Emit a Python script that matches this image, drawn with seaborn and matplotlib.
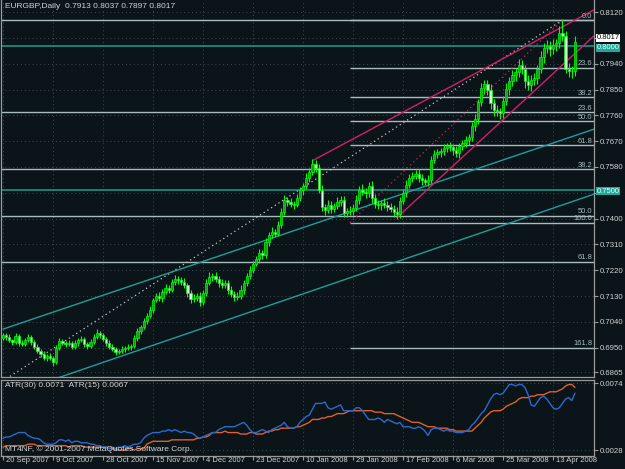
import numpy as np
import pandas as pd
import seaborn as sns
import matplotlib
matplotlib.use("Agg")
import matplotlib.pyplot as plt
import matplotlib.transforms as mtrans

# ---- data (EURGBP daily) ----
opens = [0.6984, 0.6995, 0.6988, 0.6977, 0.6970, 0.6991, 0.6967, 0.6963, 0.6977, 0.6988,
         0.6970, 0.6953, 0.6939, 0.6928, 0.6914, 0.6921, 0.6914, 0.6900, 0.6949, 0.6974,
         0.6967, 0.6963, 0.6967, 0.6953, 0.6967, 0.6977, 0.6981, 0.6963, 0.6956, 0.6970,
         0.6988, 0.7002, 0.6995, 0.6981, 0.6967, 0.6953, 0.6946, 0.6935, 0.6939, 0.6946,
         0.6949, 0.6953, 0.6956, 0.6984, 0.7009, 0.7023, 0.7044, 0.7061, 0.7082, 0.7117,
         0.7131, 0.7122, 0.7145, 0.7159, 0.7152, 0.7180, 0.7190, 0.7187, 0.7180, 0.7169,
         0.7141, 0.7120, 0.7124, 0.7131, 0.7110, 0.7141, 0.7176, 0.7197, 0.7201, 0.7190,
         0.7176, 0.7169, 0.7176, 0.7152, 0.7138, 0.7127, 0.7131, 0.7152, 0.7176, 0.7201,
         0.7222, 0.7243, 0.7258, 0.7281, 0.7272, 0.7320, 0.7344, 0.7355, 0.7348, 0.7379,
         0.7424, 0.7466, 0.7459, 0.7452, 0.7449, 0.7473, 0.7498, 0.7515, 0.7543, 0.7564,
         0.7589, 0.7578, 0.7501, 0.7442, 0.7431, 0.7449, 0.7435, 0.7445, 0.7459, 0.7466,
         0.7421, 0.7426, 0.7428, 0.7438, 0.7466, 0.7501, 0.7494, 0.7489, 0.7515, 0.7473,
         0.7452, 0.7447, 0.7456, 0.7449, 0.7442, 0.7435, 0.7424, 0.7417, 0.7463, 0.7491,
         0.7518, 0.7543, 0.7550, 0.7557, 0.7543, 0.7533, 0.7529, 0.7536, 0.7606, 0.7624,
         0.7631, 0.7634, 0.7645, 0.7652, 0.7648, 0.7638, 0.7627, 0.7652, 0.7662, 0.7673,
         0.7683, 0.7722, 0.7746, 0.7806, 0.7854, 0.7868, 0.7847, 0.7802, 0.7777, 0.7774,
         0.7767, 0.7809, 0.7851, 0.7879, 0.7900, 0.7910, 0.7935, 0.7921, 0.7879, 0.7865,
         0.7882, 0.7889, 0.7921, 0.7963, 0.7994, 0.8001, 0.7990, 0.8005, 0.8012, 0.8047,
         0.8036, 0.7921, 0.7914, 0.7913]
closes = [0.6995, 0.6988, 0.6977, 0.6970, 0.6991, 0.6967, 0.6963, 0.6977, 0.6988, 0.6970,
          0.6953, 0.6939, 0.6928, 0.6914, 0.6921, 0.6914, 0.6900, 0.6949, 0.6974, 0.6967,
          0.6963, 0.6967, 0.6953, 0.6967, 0.6977, 0.6981, 0.6963, 0.6956, 0.6970, 0.6988,
          0.7002, 0.6995, 0.6981, 0.6967, 0.6953, 0.6946, 0.6935, 0.6939, 0.6946, 0.6949,
          0.6953, 0.6956, 0.6984, 0.7009, 0.7023, 0.7044, 0.7061, 0.7082, 0.7117, 0.7131,
          0.7122, 0.7145, 0.7159, 0.7152, 0.7180, 0.7190, 0.7187, 0.7180, 0.7169, 0.7141,
          0.7120, 0.7124, 0.7131, 0.7110, 0.7141, 0.7176, 0.7197, 0.7201, 0.7190, 0.7176,
          0.7169, 0.7176, 0.7152, 0.7138, 0.7127, 0.7131, 0.7152, 0.7176, 0.7201, 0.7222,
          0.7243, 0.7258, 0.7281, 0.7272, 0.7320, 0.7344, 0.7355, 0.7348, 0.7379, 0.7424,
          0.7466, 0.7459, 0.7452, 0.7449, 0.7473, 0.7498, 0.7515, 0.7543, 0.7564, 0.7589,
          0.7578, 0.7501, 0.7442, 0.7431, 0.7449, 0.7435, 0.7445, 0.7459, 0.7466, 0.7421,
          0.7426, 0.7428, 0.7438, 0.7466, 0.7501, 0.7494, 0.7489, 0.7515, 0.7473, 0.7452,
          0.7447, 0.7456, 0.7449, 0.7442, 0.7435, 0.7424, 0.7417, 0.7463, 0.7491, 0.7518,
          0.7543, 0.7550, 0.7557, 0.7543, 0.7533, 0.7529, 0.7536, 0.7606, 0.7624, 0.7631,
          0.7634, 0.7645, 0.7652, 0.7648, 0.7638, 0.7627, 0.7652, 0.7662, 0.7673, 0.7683,
          0.7722, 0.7746, 0.7806, 0.7854, 0.7868, 0.7847, 0.7802, 0.7777, 0.7774, 0.7767,
          0.7809, 0.7851, 0.7879, 0.7900, 0.7910, 0.7935, 0.7921, 0.7879, 0.7865, 0.7882,
          0.7889, 0.7921, 0.7963, 0.7994, 0.8001, 0.7990, 0.8005, 0.8012, 0.8047, 0.8036,
          0.7921, 0.7914, 0.7913, 0.8017]
# wick lengths above / below the body, in pips
up_wick = [8, 6, 10, 5, 12, 7, 9, 6, 11, 8, 7, 9, 6, 10, 8, 12, 7, 9, 11, 6,
           8, 10, 7, 9, 6, 11, 8, 7, 10, 9, 12, 6, 8, 7, 9, 10, 6, 8, 11, 7,
           9, 8, 12, 10, 7, 11, 9, 13, 8, 10, 12, 9, 14, 8, 11, 15, 10, 9, 13, 8,
           11, 14, 9, 12, 10, 13, 16, 9, 12, 10, 14, 11, 9, 13, 10, 12, 15, 9, 11, 13,
           10, 12, 14, 9, 13, 11, 15, 10, 12, 14, 16, 11, 13, 10, 14, 12, 9, 15, 11, 18,
           14, 12, 16, 10, 15, 13, 11, 17, 12, 14, 10, 15, 13, 16, 12, 18, 11, 14, 16, 12,
           13, 10, 15, 12, 14, 11, 16, 13, 12, 15, 11, 14, 12, 16, 13, 10, 15, 12, 14, 11,
           13, 16, 10, 14, 12, 15, 11, 13, 16, 12, 14, 18, 12, 20, 16, 14, 22, 15, 18, 13,
           17, 21, 14, 19, 16, 22, 18, 15, 20, 17, 19, 16, 21, 18, 22, 17, 20, 15, 23, 45,
           18, 21, 17, 20]
down_wick = [7, 10, 6, 9, 8, 11, 6, 8, 7, 12, 9, 6, 11, 8, 10, 7, 12, 8, 6, 9,
             11, 7, 9, 8, 10, 6, 9, 12, 7, 8, 6, 10, 8, 11, 7, 9, 12, 6, 8, 10,
             8, 11, 7, 9, 12, 8, 10, 7, 11, 9, 10, 13, 8, 12, 9, 11, 14, 10, 12, 15,
             13, 9, 11, 14, 10, 12, 9, 13, 11, 15, 12, 10, 14, 11, 13, 9, 12, 14, 10, 11,
             13, 9, 12, 14, 10, 15, 11, 13, 9, 12, 11, 14, 12, 16, 10, 13, 15, 11, 14, 12,
             16, 12, 14, 17, 11, 15, 13, 12, 16, 14, 17, 12, 15, 11, 14, 13, 16, 12, 18, 15,
             14, 16, 12, 15, 13, 17, 18, 14, 12, 16, 13, 15, 11, 14, 16, 12, 15, 13, 11, 14,
             16, 12, 14, 11, 15, 13, 17, 12, 14, 16, 13, 17, 15, 14, 19, 16, 21, 18, 15, 20,
             16, 14, 19, 17, 21, 15, 18, 22, 16, 20, 18, 21, 15, 19, 17, 22, 16, 20, 18, 16,
             15, 19, 22, 16]
# ATR values in pips
atr30 = [30, 31, 31, 31, 31, 31, 31, 31, 32, 32, 32, 31, 31, 31, 31, 31, 31, 31, 31, 31,
         31, 30, 31, 31, 31, 31, 30, 30, 30, 30, 30, 30, 30, 30, 29, 29, 28, 28, 28, 28,
         29, 29, 28, 29, 29, 29, 32, 33, 34, 34, 34, 34, 34, 34, 35, 35, 35, 35, 35, 35,
         35, 35, 36, 36, 37, 37, 38, 40, 40, 40, 40, 41, 40, 40, 40, 40, 39, 39, 39, 40,
         40, 39, 39, 39, 40, 41, 41, 42, 42, 43, 43, 43, 43, 43, 44, 44, 45, 46, 47, 49,
         49, 49, 50, 50, 51, 51, 52, 53, 53, 53, 54, 55, 55, 55, 55, 55, 55, 55, 55, 54,
         54, 54, 53, 53, 53, 53, 52, 51, 50, 49, 48, 47, 47, 47, 46, 45, 44, 44, 44, 43,
         43, 43, 43, 42, 42, 41, 41, 41, 41, 41, 41, 43, 45, 47, 50, 52, 54, 55, 55, 55,
         56, 58, 59, 60, 61, 63, 64, 64, 64, 65, 65, 66, 66, 66, 67, 68, 68, 68, 69, 70,
         72, 73, 73, 71]
atr15 = [36, 37, 37, 38, 39, 40, 40, 40, 38, 37, 36, 36, 35, 33, 32, 32, 32, 33, 35, 35,
         34, 35, 33, 34, 34, 33, 33, 33, 32, 32, 31, 31, 30, 30, 29, 30, 29, 30, 30, 31,
         30, 31, 32, 32, 33, 36, 38, 39, 40, 40, 40, 41, 41, 42, 41, 42, 41, 40, 41, 40,
         40, 39, 37, 36, 37, 38, 39, 40, 40, 42, 43, 44, 44, 44, 44, 45, 46, 47, 45, 42,
         40, 40, 41, 42, 41, 40, 42, 43, 44, 45, 47, 44, 43, 43, 44, 47, 49, 51, 52, 56,
         60, 60, 60, 61, 57, 56, 57, 58, 59, 55, 55, 55, 55, 57, 57, 55, 52, 49, 49, 49,
         50, 49, 47, 49, 48, 47, 46, 47, 44, 44, 44, 43, 43, 44, 43, 41, 38, 42, 43, 43,
         42, 41, 42, 41, 41, 40, 40, 40, 41, 42, 45, 47, 50, 53, 55, 59, 63, 66, 67, 66,
         67, 70, 73, 73, 72, 73, 73, 71, 66, 59, 58, 61, 64, 65, 63, 60, 57, 56, 57, 60,
         63, 64, 62, 67]

first_day = "2007-09-20"
date_labels = ["20 Sep 2007", "9 Oct 2007", "28 Oct 2007", "15 Nov 2007", "4 Dec 2007",
               "23 Dec 2007", "10 Jan 2008", "29 Jan 2008", "17 Feb 2008", "6 Mar 2008",
               "25 Mar 2008", "13 Apr 2008"]
price_ticks = [0.8120, 0.8030, 0.7940, 0.7850, 0.7760, 0.7670, 0.7580, 0.7490,
               0.7400, 0.7310, 0.7220, 0.7130, 0.7040, 0.6950, 0.6865]
hidden_ticks = [0.8030, 0.7490]   # covered by the price boxes on the chart
atr_ticks = [0.0074, 0.0028]
hlines_teal = [0.8000, 0.7500]
last_price = 0.8017

fib_levels = [0.0, 23.6, 38.2, 50.0, 61.8, 100.0, 161.8]
fib_wide = {"lo": (-15.0, 0.6729), "hi": (179, 0.8092)}
fib_near = {"lo": (111, 0.7386), "hi": (179, 0.8092)}
teal_up = [(0.3, 0.7016), (95.0, 0.7365)]
teal_dn = [(19.2, 0.6851), (95.0, 0.7134)]
red_up = [(99.2, 0.7603), (189.0, 0.8127)]
red_dn = [(126.1, 0.7404), (189.0, 0.8036)]

# ---- style ----
bg = "#0b1519"
grid_c = "#3e4c50"
txt_c = "#d2d2d2"
spine_c = "#9a9a9a"
sns.set_theme(style="dark", rc={"axes.facecolor": bg, "figure.facecolor": bg,
                                "axes.edgecolor": spine_c, "grid.color": grid_c})
plt.rcParams["font.family"] = ["Liberation Sans", "DejaVu Sans"]

n = len(closes)
dates = pd.bdate_range(first_day, periods=n, freq="C", weekmask="Sun Mon Tue Wed Thu Fri")
bars = np.arange(n)
day_str = [f"{d.day} {d:%b %Y}" for d in dates]
tick_pos = [day_str.index(s) for s in date_labels]

o = np.array(opens)
c = np.array(closes)
hi = np.maximum(o, c) + np.array(up_wick) * 1e-4
lo = np.minimum(o, c) - np.array(down_wick) * 1e-4

fig = plt.figure(figsize=(6.25, 4.69), dpi=100)
L, W = 1 / 625, 593 / 625
ax = fig.add_axes([L, 0.1962, W, 0.8038])
ax2 = fig.add_axes([L, 0.0277, W, 0.1621])
xmin, xmax = -0.64, 189.1
for a in (ax, ax2):
    a.set_xlim(xmin, xmax)
    a.set_facecolor(bg)
    for s in a.spines.values():
        s.set_color(spine_c)
        s.set_linewidth(0.9)
    a.set_xticks(tick_pos)
    a.grid(True, color=grid_c, linestyle=(0, (1, 3)), linewidth=0.7)
ax.spines["top"].set_visible(False)
ax.set_ylim(0.6848, 0.8162)
ax2.set_ylim(0.00239, 0.00761)


def seg(p1, p2, x0, x1):
    (a0, b0), (a1, b1) = p1, p2
    k = (b1 - b0) / (a1 - a0)
    return [x0, x1], [b0 + k * (x0 - a0), b0 + k * (x1 - a0)]


# horizontal lines
for h in hlines_teal:
    ax.axhline(h, color="#1f9e8e", lw=1.1, zorder=2)

# fibonacci levels
lab_kw = dict(xycoords=("axes fraction", "data"), textcoords="offset points",
              ha="right", va="bottom", fontsize=5.4, color="#a8bcbc")
for fib, start in ((fib_wide, None), (fib_near, fib_near["lo"][0])):
    (lb, lp), (hb, hp) = fib["lo"], fib["hi"]
    for r in fib_levels:
        lvl = hp - r / 100 * (hp - lp)
        x0 = xmin if start is None else start
        ax.hlines(lvl, x0, xmax, color="#a9bcbc", lw=1.0, zorder=2)
        if start is None and r == 0.0:
            continue  # same spot as the other set's 0.0 label
        ax.annotate(f"{r:.1f}", xy=(0.997, lvl), xytext=(0, 0.3), **lab_kw)
    ax.plot([lb, hb], [lp, hp], color="#c8c8c8" if start is None else "#d0206a",
            lw=0.9, linestyle=(0, (1, 2.5)), zorder=2)

# trend / channel lines
for pts in (teal_up, teal_dn):
    xs, ys = seg(pts[0], pts[1], 0, xmax)
    ax.plot(xs, ys, color="#1f9e9a", lw=1.0, zorder=2)
for pts in (red_up, red_dn):
    xs, ys = seg(pts[0], pts[1], pts[0][0], xmax)
    ax.plot(xs, ys, color="#d0206a", lw=1.0, zorder=2)

# candles
bull = c >= o
ax.vlines(bars, lo, hi, color="#00ff00", lw=0.8, zorder=3)
ax.bar(bars, np.abs(c - o), bottom=np.minimum(o, c), width=0.72,
       color=np.where(bull, "#14a014", "#d4ffd4"), edgecolor="#00ff00",
       linewidth=0.5, zorder=4)

# ATR panel
df = pd.DataFrame({"bar": bars, "atr30": np.array(atr30) * 1e-4,
                   "atr15": np.array(atr15) * 1e-4})
sns.lineplot(data=df, x="bar", y="atr30", ax=ax2, color="#e0602a", lw=1.0)
sns.lineplot(data=df, x="bar", y="atr15", ax=ax2, color="#2a6ad0", lw=1.0)
ax2.set_xlabel("")
ax2.set_ylabel("")

# axes ticks
ax.yaxis.tick_right()
ax.set_yticks(price_ticks)
ax.set_yticklabels(["" if p in hidden_ticks else f"{p:.4f}" for p in price_ticks])
ax2.yaxis.tick_right()
ax2.set_yticks(atr_ticks)
ax2.set_yticklabels([f"{p:.4f}" for p in atr_ticks])
for a in (ax, ax2):
    a.tick_params(axis="y", right=True, left=False, length=3, width=0.8, color=spine_c,
                  labelcolor=txt_c, labelsize=5.6, pad=1.5)
    a.xaxis.get_offset_text().set_visible(False)
    a.yaxis.get_offset_text().set_visible(False)
ax.tick_params(axis="x", bottom=False, labelbottom=False)
ax2.set_xticklabels(date_labels, ha="left")
ax2.tick_params(axis="x", bottom=True, length=3, width=0.8, color=spine_c,
                labelcolor=txt_c, labelsize=5.5, pad=-2.4)
shift = mtrans.ScaledTranslation(2.2 / 72, 0, fig.dpi_scale_trans)
for t in ax2.get_xticklabels():
    t.set_transform(t.get_transform() + shift)

# price boxes on the right axis
box_kw = dict(xycoords=("axes fraction", "data"), textcoords="offset points",
              ha="left", va="center", fontsize=5.5, annotation_clip=False, zorder=10)
for h in hlines_teal:
    ax.annotate(f"{h:.4f}", xy=(1.0, h), xytext=(2.0, -0.8), color="#e8ffff",
                bbox=dict(boxstyle="square,pad=0.06", fc="#22a898", ec="none"), **box_kw)
ax.annotate(f"{last_price:.4f}", xy=(1.0, last_price), xytext=(2.0, 2.6),
            color="#000000", bbox=dict(boxstyle="square,pad=0.06", fc="#ffffff", ec="none"),
            **box_kw)

# texts
fig.text(5 / 625, 1 - 7 / 469, "EURGBP,Daily  0.7913 0.8037 0.7897 0.8017",
         color=txt_c, fontsize=6, va="center", ha="left")
fig.text(5 / 625, 1 - 385 / 469, "ATR(30) 0.0071  ATR(15) 0.0067",
         color=txt_c, fontsize=6, va="center", ha="left")
fig.text(5 / 625, 1 - 449 / 469, "MT4NF, © 2001-2007 MetaQuotes Software Corp.",
         color=txt_c, fontsize=6, va="center", ha="left")

fig.savefig("out.png", dpi=100, facecolor=bg)
